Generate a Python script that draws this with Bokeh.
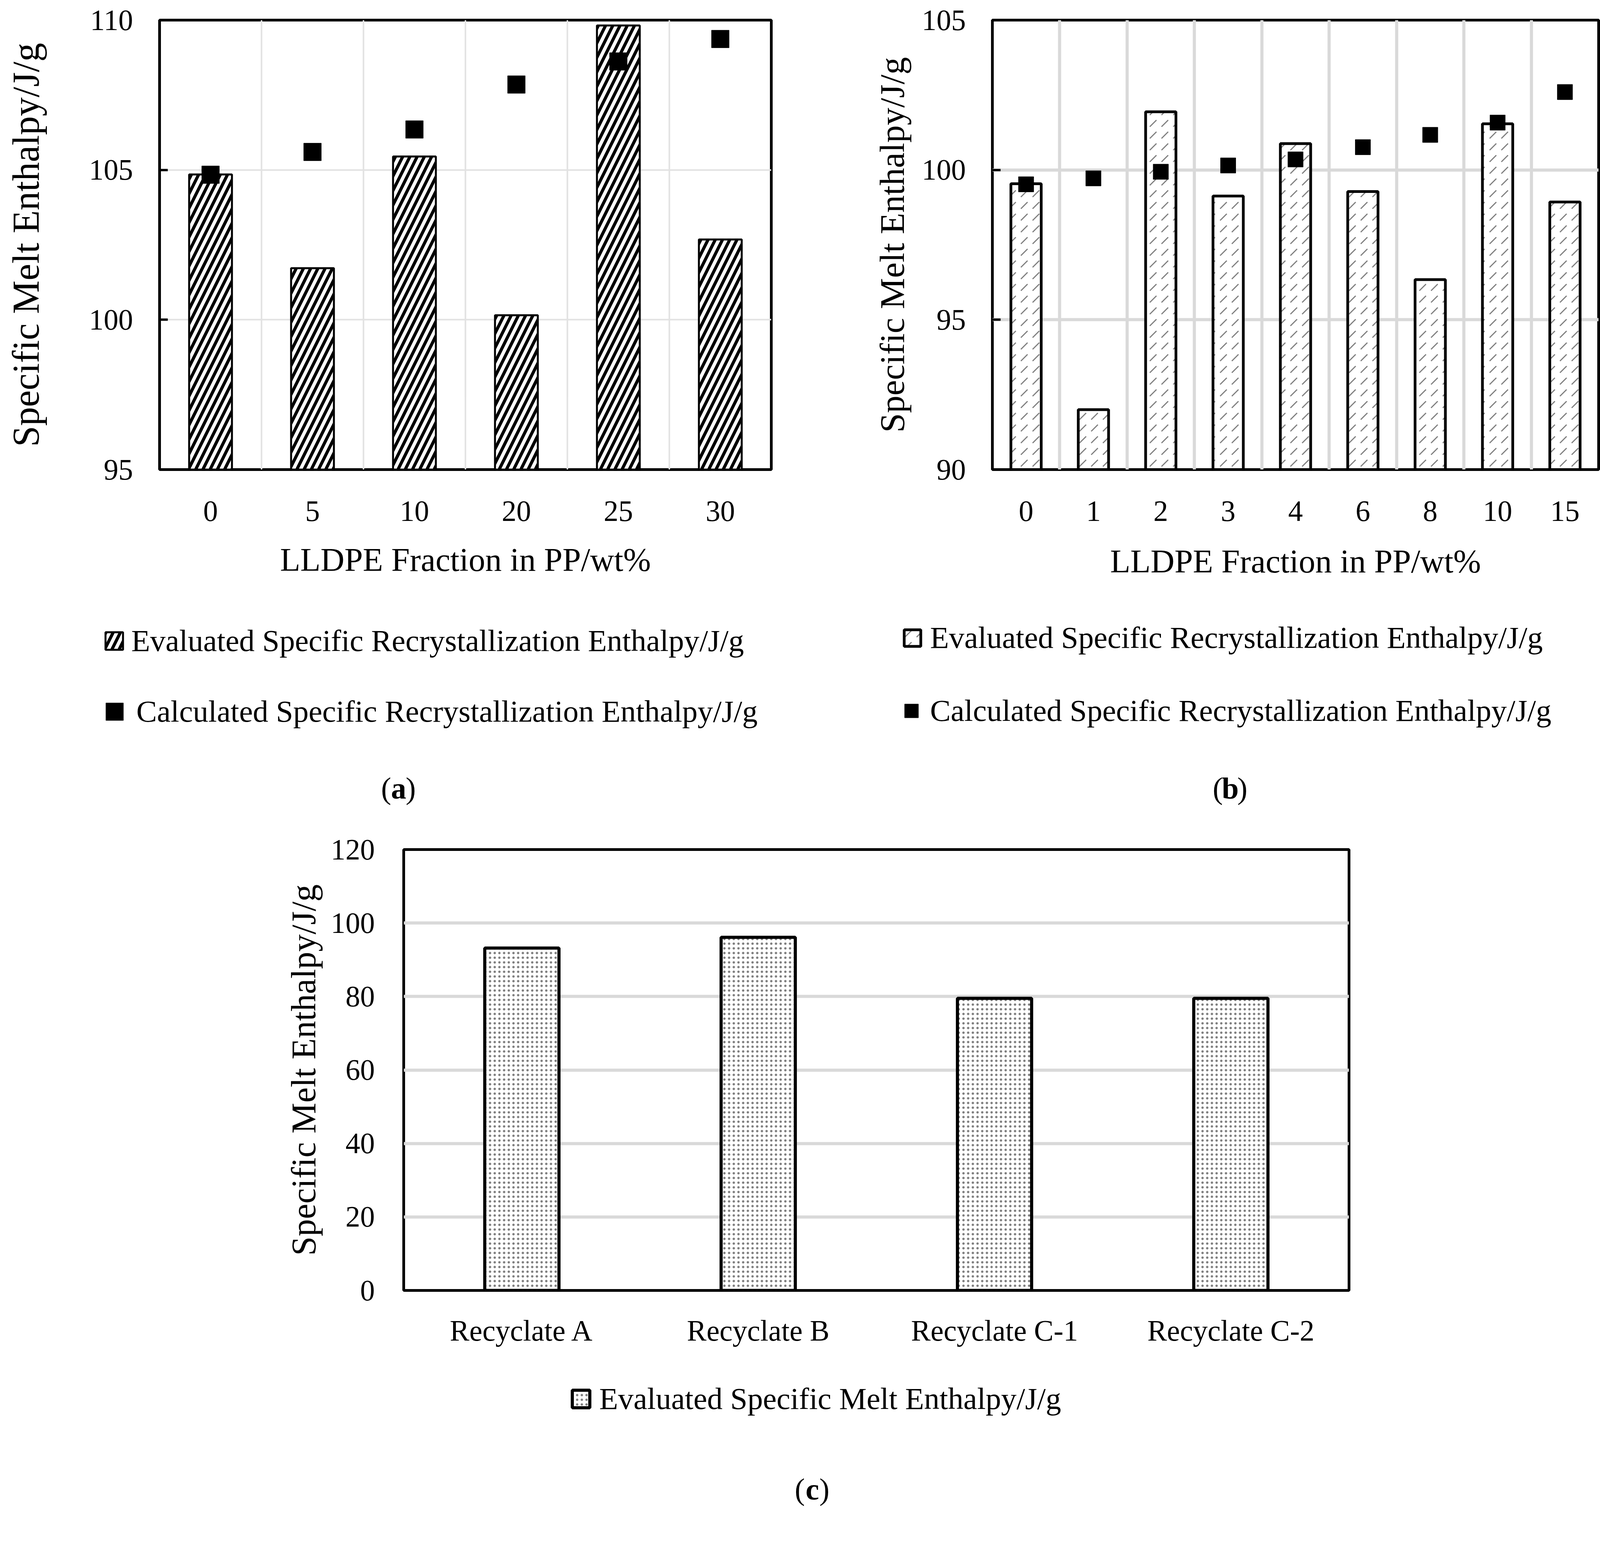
from bokeh.plotting import figure
from bokeh.models import FixedTicker, Legend, LegendItem, Label
from bokeh.layouts import column, row
from bokeh.embed import file_html
from bokeh.resources import INLINE

FONT = "Liberation Serif"
S = 0.975  # overall size factor of the page


def px(v):
    return int(round(v * S))


def fs(v):
    return f"{v * S:.1f}px"


# (a) LLDPE fraction in PP, 95-110 J/g axis
a_fraction = ["0", "5", "10", "20", "25", "30"]
a_evaluated = [104.85, 101.72, 105.45, 100.15, 109.82, 102.68]
a_calculated = [104.84, 105.60, 106.35, 107.85, 108.62, 109.37]
a_yticks = [95, 100, 105, 110]

# (b) LLDPE fraction in PP, 90-105 J/g axis
b_fraction = ["0", "1", "2", "3", "4", "6", "8", "10", "15"]
b_evaluated = [99.54, 92.00, 101.94, 99.13, 100.88, 99.28, 96.34, 101.54, 98.93]
b_calculated = [99.52, 99.72, 99.94, 100.15, 100.35, 100.76, 101.17, 101.58, 102.60]
b_yticks = [90, 95, 100, 105]

# (c) recyclates
c_samples = ["Recyclate A", "Recyclate B", "Recyclate C-1", "Recyclate C-2"]
c_evaluated = [93.2, 96.1, 79.5, 79.5]
c_yticks = [0, 20, 40, 60, 80, 100, 120]

y_title = "Specific Melt Enthalpy/J/g"
x_title = "LLDPE Fraction in PP/wt%"
eval_recryst = "Evaluated Specific Recrystallization Enthalpy/J/g"
calc_recryst = "Calculated Specific Recrystallization Enthalpy/J/g"
eval_melt = "Evaluated Specific Melt Enthalpy/J/g"

# bar styles per panel
style_a = dict(fill_color="white", line_color="black", line_width=px(5),
               hatch_pattern="/", hatch_color="black", hatch_scale=px(38),
               hatch_weight=px(8))
style_b = dict(fill_color="white", line_color="black", line_width=px(7),
               hatch_pattern=",", hatch_color="#7f7f7f", hatch_scale=px(31),
               hatch_weight=px(3))
style_c = dict(fill_color="white", line_color="black", line_width=px(8),
               hatch_pattern=".", hatch_color="#7f7f7f", hatch_scale=px(12),
               hatch_weight=px(3))


def chart(labels, yticks, width, height, left, top, fw, fh, grid_color,
          grid_width, vgrid=True, ylabel_size=92, ylabel_standoff=20,
          xlabel_standoff=77):
    n = len(labels)
    p = figure(width=px(width), height=px(height), x_range=(-0.5, n - 0.5),
               y_range=(yticks[0], yticks[-1]), output_backend="svg",
               toolbar_location=None, min_border_left=px(left),
               min_border_right=px(width - left - fw), min_border_top=px(top),
               min_border_bottom=px(height - top - fh))
    p.outline_line_color = "black"
    p.outline_line_width = px(7)

    xs = list(range(n))
    p.xaxis.ticker = FixedTicker(ticks=xs)
    p.xaxis.major_label_overrides = {i: lab for i, lab in enumerate(labels)}
    p.xaxis.axis_line_color = None
    p.xaxis.major_tick_line_color = None
    p.xaxis.minor_tick_line_color = None
    p.xaxis.major_label_standoff = px(xlabel_standoff)

    p.yaxis.ticker = FixedTicker(ticks=yticks)
    p.yaxis.axis_line_color = None
    p.yaxis.minor_tick_line_color = None
    p.yaxis.major_label_standoff = px(70)
    p.yaxis.axis_label = y_title
    p.yaxis.axis_label_text_font_size = fs(ylabel_size)
    p.yaxis.axis_label_standoff = px(ylabel_standoff)

    for ax in (p.xaxis, p.yaxis):
        ax.major_label_text_font = FONT
        ax.major_label_text_font_size = fs(77)
        ax.major_label_text_color = "black"
        ax.axis_label_text_font = FONT
        ax.axis_label_text_font_style = "normal"
        ax.axis_label_text_color = "black"

    if vgrid:
        p.xgrid.ticker = FixedTicker(ticks=[i + 0.5 for i in range(n - 1)])
        p.xgrid.grid_line_color = grid_color
        p.xgrid.grid_line_width = px(grid_width)
    else:
        p.xgrid.grid_line_color = None
    p.ygrid.ticker = FixedTicker(ticks=yticks)
    p.ygrid.grid_line_color = grid_color
    p.ygrid.grid_line_width = px(grid_width)
    return p, xs


def key_area(width, height):
    # blank strip under a chart holding its legend and caption
    k = figure(width=px(width), height=px(height), x_range=(0, 1), y_range=(0, 1),
               output_backend="svg", toolbar_location=None,
               x_axis_location=None, y_axis_location=None, min_border=0)
    k.outline_line_color = None
    k.xgrid.visible = False
    k.ygrid.visible = False
    return k


def add_legend(k, renderer, label, x, y, glyph, standoff):
    lg = Legend(items=[LegendItem(label=label, renderers=[renderer])],
                location=(px(x), px(y)), orientation="vertical",
                glyph_width=px(glyph), glyph_height=px(glyph),
                label_standoff=px(standoff), padding=0, margin=0,
                border_line_color=None, background_fill_alpha=0,
                label_text_font=FONT, label_text_font_size=fs(81),
                label_text_color="black")
    k.add_layout(lg)


def add_caption(k, letter, x, y):
    # "(x)" with the letter in bold, as in the figure captions
    parts = [("(", "right", "normal", -19), (letter, "center", "bold", 0),
             (")", "left", "normal", 19)]
    for text, align, style, dx in parts:
        k.add_layout(Label(x=px(x + dx), y=px(y), x_units="screen",
                           y_units="screen", text=text, text_align=align,
                           text_baseline="middle", text_font=FONT,
                           text_font_size=fs(80), text_font_style=style,
                           text_color="black"))


# ---- panel (a)
pa, xa = chart(a_fraction, a_yticks, 2180, 1592, 418, 52, 1606, 1192,
               "#e2e2e2", 4, ylabel_size=99, ylabel_standoff=108)
pa.yaxis.major_tick_in = px(22)
pa.yaxis.major_tick_out = 0
pa.yaxis.major_tick_line_width = px(6)
pa.xaxis.axis_label = x_title
pa.xaxis.axis_label_text_font_size = fs(87)
pa.xaxis.axis_label_standoff = px(50)
pa.vbar(x=xa, top=a_evaluated, bottom=a_yticks[0], width=0.42, **style_a)
pa.scatter(x=xa, y=a_calculated, marker="square", size=px(46), color="black")

ka = key_area(2180, 560)
key_bars_a = ka.vbar(x=xa, top=a_evaluated, width=0.42, visible=False, **style_a)
key_pts_a = ka.scatter(x=xa, y=a_calculated, marker="square", color="black",
                       visible=False)
add_legend(ka, key_bars_a, eval_recryst, 271, 423, 57, 16)
add_legend(ka, key_pts_a, calc_recryst, 243, 226, 115, -10)
add_caption(ka, "a", 1046, 82)

# ---- panel (b)
pb, xb = chart(b_fraction, b_yticks, 2057, 1592, 425, 52, 1591, 1181,
               "#d9d9d9", 8, ylabel_size=92, ylabel_standoff=25)
pb.yaxis.major_tick_in = px(22)
pb.yaxis.major_tick_out = 0
pb.yaxis.major_tick_line_width = px(6)
pb.xaxis.axis_label = x_title
pb.xaxis.axis_label_text_font_size = fs(87)
pb.xaxis.axis_label_standoff = px(54)
pb.vbar(x=xb, top=b_evaluated, bottom=b_yticks[0], width=0.45, **style_b)
pb.scatter(x=xb, y=b_calculated, marker="square", size=px(40), color="black")

kb = key_area(2057, 560)
key_bars_b = kb.vbar(x=xb, top=b_evaluated, width=0.45, visible=False, **style_b)
key_pts_b = kb.scatter(x=xb, y=b_calculated, marker="square", color="black",
                       visible=False)
add_legend(kb, key_bars_b, eval_recryst, 188, 431, 54, 19)
add_legend(kb, key_pts_b, calc_recryst, 167, 239, 90, 4)
add_caption(kb, "b", 1049, 82)

# ---- panel (c)
pc, xc = chart(c_samples, c_yticks, 4237, 1400, 1059, 79, 2483, 1158,
               "#d9d9d9", 8, vgrid=False, ylabel_size=91, ylabel_standoff=18,
               xlabel_standoff=56)
pc.yaxis.major_tick_line_color = None
pc.vbar(x=xc, top=c_evaluated, bottom=c_yticks[0], width=0.314, **style_c)

kc = key_area(4237, 414)
key_bars_c = kc.vbar(x=xc, top=c_evaluated, width=0.314, visible=False, **style_c)
add_legend(kc, key_bars_c, eval_melt, 1496, 246, 57, 19)
add_caption(kc, "c", 2132, 55)

layout = column(row(pa, pb), row(ka, kb), row(pc), row(kc))
open("out.html", "w").write(file_html(layout, INLINE))
